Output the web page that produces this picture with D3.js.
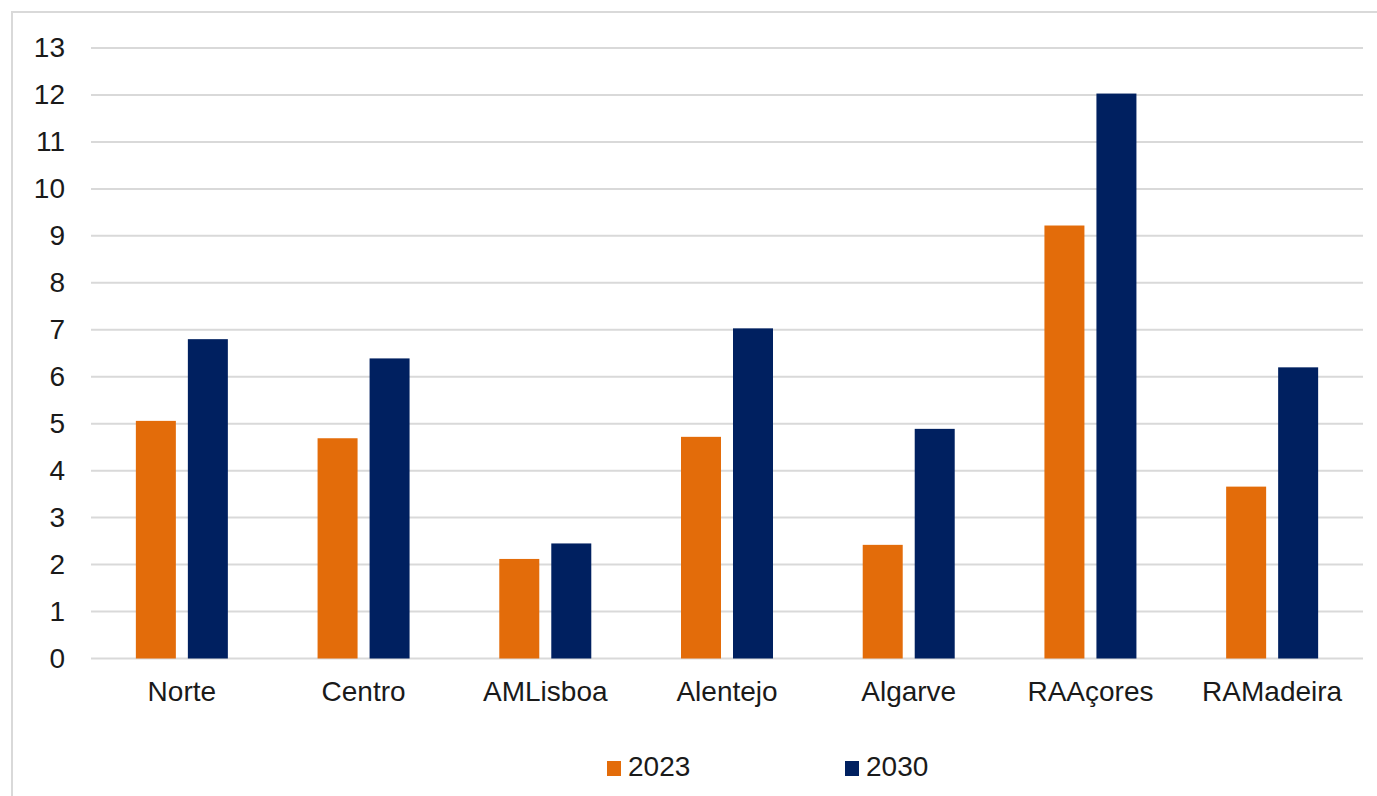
<!DOCTYPE html>
<html>
<head>
<meta charset="utf-8">
<script src="https://cdn.jsdelivr.net/npm/d3@7.9.0/dist/d3.min.js"></script>
<style>
  body { margin: 0; background: #fff; }
  svg { display: block; font-family: "Liberation Sans", Arial, sans-serif; }
</style>
</head>
<body>
<div id="chart"></div>
<script>
// --- Data ---
const regions = ["Norte", "Centro", "AMLisboa", "Alentejo", "Algarve", "RAAçores", "RAMadeira"];
const seriesNames = ["2023", "2030"];
const values2023 = [5.06, 4.69, 2.12, 4.72, 2.42, 9.22, 3.66];
const values2030 = [6.80, 6.39, 2.45, 7.03, 4.89, 12.03, 6.20];
const yTicks = d3.range(0, 14);

const COLORS = { "2023": "#E36C0A", "2030": "#002060" };

// --- Layout ---
const W = 1377, H = 796;
const plot = { left: 91, right: 1363, top: 48, bottom: 658.5 };
const GROUP_W = 92; // both bars plus gap

const svg = d3.select("#chart").append("svg").attr("width", W).attr("height", H);

// outer frame (right and bottom edges fall off the picture)
svg.append("rect")
  .attr("x", 12).attr("y", 12)
  .attr("width", W).attr("height", H)
  .attr("fill", "none")
  .attr("stroke", "#d9d9d9")
  .attr("stroke-width", 2);

const x0 = d3.scaleBand().domain(regions).range([plot.left, plot.right]).padding(0);
const x1 = d3.scaleBand().domain(seriesNames).range([0, GROUP_W]).paddingInner(0.2308).paddingOuter(0);
const y = d3.scaleLinear().domain([0, 13]).range([plot.bottom, plot.top]);

// gridlines
svg.append("g")
  .selectAll("line")
  .data(yTicks)
  .join("line")
  .attr("x1", plot.left)
  .attr("x2", plot.right)
  .attr("y1", d => y(d))
  .attr("y2", d => y(d))
  .attr("stroke", "#d9d9d9")
  .attr("stroke-width", 2);

// y axis labels
const yAxis = svg.append("g")
  .attr("transform", `translate(${plot.left - 26},0)`)
  .call(d3.axisLeft(y).tickValues(yTicks).tickSize(0).tickPadding(0).tickFormat(d3.format("d")));
yAxis.select(".domain").remove();
yAxis.selectAll("text")
  .attr("font-size", 28)
  .attr("fill", "#1a1a1a")
  .attr("font-family", "Liberation Sans, Arial, sans-serif");

// bars
const rows = regions.map((r, i) => ({ region: r, "2023": values2023[i], "2030": values2030[i] }));
const offset = (x0.bandwidth() - GROUP_W) / 2;

svg.append("g")
  .selectAll("g")
  .data(rows)
  .join("g")
  .attr("transform", d => `translate(${x0(d.region) + offset},0)`)
  .selectAll("rect")
  .data(d => seriesNames.map(s => ({ key: s, value: d[s] })))
  .join("rect")
  .attr("x", d => x1(d.key))
  .attr("width", x1.bandwidth())
  .attr("y", d => y(d.value))
  .attr("height", d => y(0) - y(d.value))
  .attr("fill", d => COLORS[d.key]);

// x axis labels
const xAxis = svg.append("g")
  .attr("transform", `translate(0,${plot.bottom + 23})`)
  .call(d3.axisBottom(x0).tickSize(0).tickPadding(0));
xAxis.select(".domain").remove();
xAxis.selectAll("text")
  .attr("font-size", 28)
  .attr("fill", "#1a1a1a")
  .attr("font-family", "Liberation Sans, Arial, sans-serif");

// legend
const legendX = [607, 845];
const legend = svg.append("g")
  .selectAll("g")
  .data(seriesNames)
  .join("g")
  .attr("transform", (d, i) => `translate(${legendX[i]},761)`);
legend.append("rect")
  .attr("width", 14).attr("height", 15)
  .attr("fill", d => COLORS[d]);
legend.append("text")
  .attr("x", 21)
  .attr("y", 15)
  .attr("font-size", 28)
  .attr("fill", "#1a1a1a")
  .text(d => d);
</script>
</body>
</html>
